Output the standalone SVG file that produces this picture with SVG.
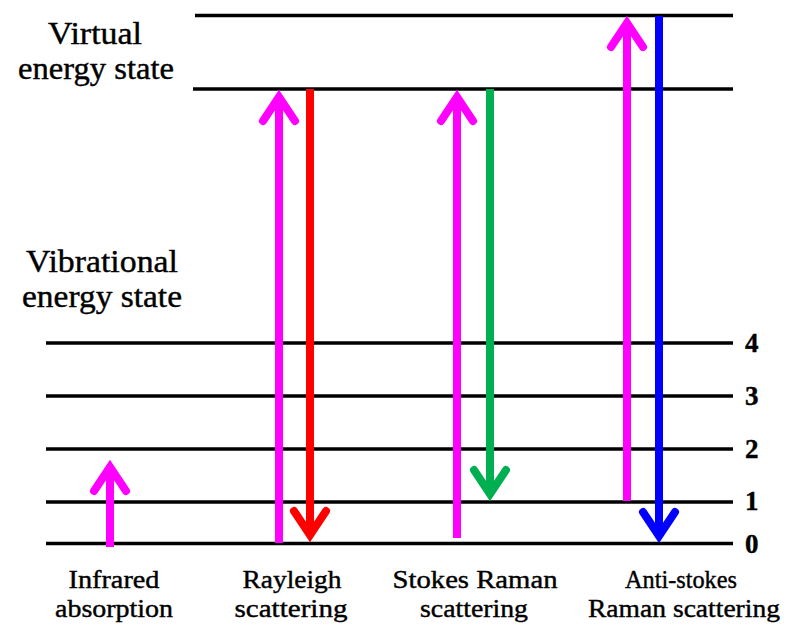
<svg xmlns="http://www.w3.org/2000/svg" width="795" height="633" viewBox="0 0 795 633">
<style>
.lvl{stroke:#000;stroke-width:3.5;fill:none}
.shaft{stroke-width:8;fill:none}
.head{stroke-width:8;fill:none;stroke-linecap:round;stroke-linejoin:miter;stroke-miterlimit:10}
.m{stroke:#FF00FF}.r{stroke:#FF0000}.g{stroke:#00B050}.b{stroke:#0000FF}
</style>
<rect width="795" height="633" fill="#fff"/>
<g id="levels">
<line class="lvl" x1="195" y1="15.5" x2="733" y2="15.5"/>
<line class="lvl" x1="193" y1="89" x2="733" y2="89"/>
<line class="lvl" x1="46" y1="343" x2="733" y2="343"/>
<line class="lvl" x1="46" y1="396" x2="733" y2="396"/>
<line class="lvl" x1="46" y1="449" x2="733" y2="449"/>
<line class="lvl" x1="46" y1="502" x2="733" y2="502"/>
<line class="lvl" x1="46" y1="543.5" x2="733" y2="543.5"/>
</g>
<g id="level-labels" fill="#000" stroke="#000" stroke-width="0.4">
<text font-family="Liberation Serif" font-size="32" x="95" y="44" text-anchor="middle" textLength="94" lengthAdjust="spacingAndGlyphs">Virtual</text>
<text font-family="Liberation Serif" font-size="32" x="96" y="79" text-anchor="middle" textLength="156" lengthAdjust="spacingAndGlyphs">energy state</text>
<text font-family="Liberation Serif" font-size="32" x="102" y="272" text-anchor="middle" textLength="152" lengthAdjust="spacingAndGlyphs">Vibrational</text>
<text font-family="Liberation Serif" font-size="32" x="102" y="307" text-anchor="middle" textLength="160" lengthAdjust="spacingAndGlyphs">energy state</text>
<text font-family="Liberation Serif" font-size="27" font-weight="bold" x="745" y="352">4</text>
<text font-family="Liberation Serif" font-size="27" font-weight="bold" x="745" y="405">3</text>
<text font-family="Liberation Serif" font-size="27" font-weight="bold" x="745" y="458">2</text>
<text font-family="Liberation Serif" font-size="27" font-weight="bold" x="745" y="510">1</text>
<text font-family="Liberation Serif" font-size="27" font-weight="bold" x="745" y="553">0</text>
</g>
<g id="connectors">
<g id="infrared-arrow">
<line class="shaft m" x1="110" y1="547" x2="110" y2="467"/>
<polyline class="head m" points="94,491 110,467 126,491"/>
</g>
<g id="rayleigh-up">
<line class="shaft m" x1="279" y1="543" x2="279" y2="97"/>
<polyline class="head m" points="263,121 279,97 295,121"/>
</g>
<g id="rayleigh-down">
<line class="shaft r" x1="310" y1="89" x2="310" y2="535"/>
<polyline class="head r" points="294,511 310,535 326,511"/>
</g>
<g id="stokes-up">
<line class="shaft m" x1="457" y1="538" x2="457" y2="97"/>
<polyline class="head m" points="441,121 457,97 473,121"/>
</g>
<g id="stokes-down">
<line class="shaft g" x1="490" y1="89" x2="490" y2="494"/>
<polyline class="head g" points="474,470 490,494 506,470"/>
</g>
<g id="antistokes-up">
<line class="shaft m" x1="627" y1="501" x2="627" y2="23"/>
<polyline class="head m" points="611,47 627,23 643,47"/>
</g>
<g id="antistokes-down">
<line class="shaft b" x1="659" y1="16" x2="659" y2="536"/>
<polyline class="head b" points="643,512 659,536 675,512"/>
</g>
</g>
<g id="captions" fill="#000" stroke="#000" stroke-width="0.4" text-anchor="middle">
<text font-family="Liberation Serif" font-size="25" x="114" y="588" textLength="91" lengthAdjust="spacingAndGlyphs">Infrared</text>
<text font-family="Liberation Serif" font-size="25" x="114" y="617" textLength="118" lengthAdjust="spacingAndGlyphs">absorption</text>
<text font-family="Liberation Serif" font-size="25" x="292" y="588" textLength="99" lengthAdjust="spacingAndGlyphs">Rayleigh</text>
<text font-family="Liberation Serif" font-size="25" x="291" y="617" textLength="113" lengthAdjust="spacingAndGlyphs">scattering</text>
<text font-family="Liberation Serif" font-size="25" x="475" y="588" textLength="165" lengthAdjust="spacingAndGlyphs">Stokes Raman</text>
<text font-family="Liberation Serif" font-size="25" x="474" y="617" textLength="108" lengthAdjust="spacingAndGlyphs">scattering</text>
<text font-family="Liberation Serif" font-size="25" x="681" y="588" textLength="112" lengthAdjust="spacingAndGlyphs">Anti-stokes</text>
<text font-family="Liberation Serif" font-size="25" x="684" y="617" textLength="192" lengthAdjust="spacingAndGlyphs">Raman scattering</text>
</g>
</svg>
